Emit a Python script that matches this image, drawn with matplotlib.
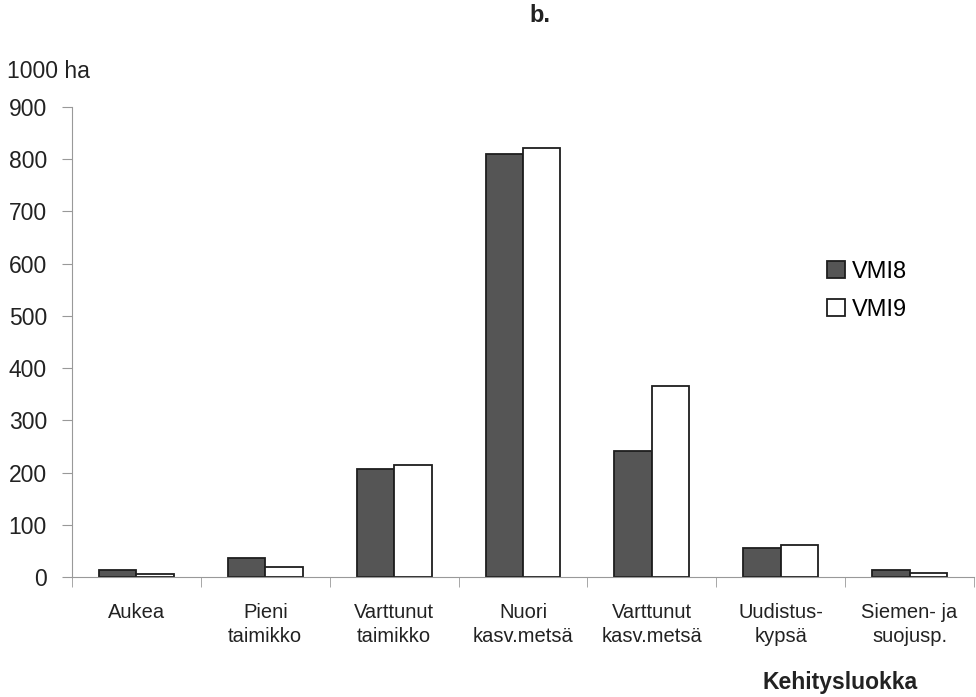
import matplotlib
matplotlib.use("Agg")
import matplotlib.pyplot as plt
import numpy as np

categories = ["Aukea", "Pieni\ntaimikko", "Varttunut\ntaimikko", "Nuori\nkasv.metsä",
              "Varttunut\nkasv.metsä", "Uudistus-\nkypsä", "Siemen- ja\nsuojusp."]
vmi8 = [13, 36, 207, 810, 241, 56, 13]
vmi9 = [6, 20, 214, 821, 366, 61, 7]
yticks = [0, 100, 200, 300, 400, 500, 600, 700, 800, 900]

plt.rcParams['font.family'] = ['Liberation Sans', 'DejaVu Sans']
fig = plt.figure(figsize=(9.76, 6.97), dpi=100)
ax = fig.add_axes([72/976, 1-577/697, (974-72)/976, (577-107)/697])

x = np.arange(len(categories))
w = 0.29
ax.bar(x - w/2, vmi8, w, color='#555555', edgecolor='#1e1e1e', linewidth=1.3, label='VMI8')
ax.bar(x + w/2, vmi9, w, color='white', edgecolor='#1e1e1e', linewidth=1.3, label='VMI9')

ax.set_xlim(-0.5, len(categories) - 0.5)
ax.set_ylim(0, 900)
ax.set_yticks(yticks)
ax.set_yticklabels([str(v) for v in yticks], fontsize=16.5, color='#222222')
ax.set_xticks(x)
ax.set_xticklabels(categories, fontsize=14.5, color='#222222', linespacing=1.3)
ax.tick_params(axis='x', which='major', length=0, pad=19)
ax.set_xticks(np.arange(len(categories)+1) - 0.5, minor=True)
ax.tick_params(axis='x', which='minor', length=7, color='#999999')
ax.tick_params(axis='y', length=7, color='#999999', pad=11)
for s in ['top', 'right']:
    ax.spines[s].set_visible(False)
for s in ['left', 'bottom']:
    ax.spines[s].set_color('#999999')

leg = ax.legend(loc='upper left', frameon=False, borderaxespad=0, borderpad=0,
                fontsize=17, handlelength=0.75, handleheight=0.75, handletextpad=0.3,
                labelspacing=0.68)
leg.set_bbox_to_anchor((827/976, 1-261/697), transform=fig.transFigure)

fig.text(540/976, 1-16/697, "b.", fontsize=17, fontweight='bold', ha='center', va='center', color='#222222')
fig.text(7/976, 1-72/697, "1000 ha", fontsize=16.5, ha='left', va='center', color='#222222')
fig.text(840/976, 1-683/697, "Kehitysluokka", fontsize=16.5, fontweight='bold', ha='center', va='center', color='#222222')

fig.savefig("out.png", dpi=100)
